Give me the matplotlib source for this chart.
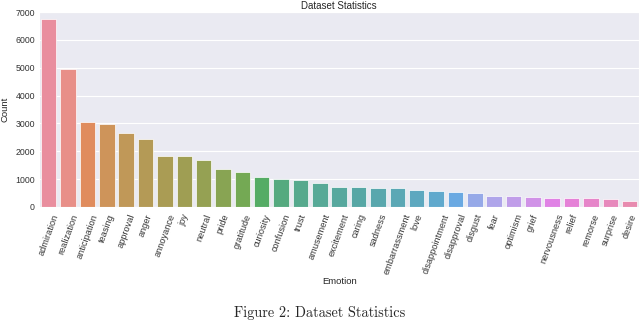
import matplotlib
matplotlib.use('Agg')
import matplotlib.pyplot as plt
import seaborn as sns

# emotion counts
emotions = ['admiration', 'realization', 'anticipation', 'teasing', 'approval', 'anger',
            'annoyance', 'joy', 'neutral', 'pride', 'gratitude', 'curiosity', 'confusion',
            'trust', 'amusement', 'excitement', 'caring', 'sadness', 'embarrassment', 'love',
            'disappointment', 'disapproval', 'disgust', 'fear', 'optimism', 'grief',
            'nervousness', 'relief', 'remorse', 'surprise', 'desire']
counts = [6750, 4970, 3050, 2980, 2640, 2440,
          1820, 1820, 1690, 1350, 1240, 1080, 1010,
          970, 870, 710, 705, 670, 670, 620,
          570, 545, 490, 400, 400, 350,
          320, 320, 320, 280, 220]
y_ticks = [0, 1000, 2000, 3000, 4000, 5000, 6000, 7000]

sns.set_style('darkgrid')
plt.rcParams['font.family'] = ['Liberation Sans', 'DejaVu Sans']

fig = plt.figure(figsize=(6.4, 3.28), dpi=100)
ax = fig.add_axes([0.061, 0.369, 0.938, 0.594])

# husl palette, desaturated like seaborn barplot and slightly lightened
colors = []
for c in sns.color_palette('husl', len(emotions)):
    r, g, b = sns.desaturate(c, 0.75)
    colors.append((r + (1 - r) * 0.1, g + (1 - g) * 0.1, b + (1 - b) * 0.1))
ax.bar(range(len(emotions)), counts, width=0.8, color=colors, edgecolor='white', linewidth=0.5)

ax.set_xlim(-0.5, len(emotions) - 0.5)
ax.set_ylim(0, 7000)
ax.set_yticks(y_ticks)
ax.set_xticks(range(len(emotions)))
ax.set_xticklabels(emotions, rotation=70, ha='center', fontsize=6.6)
ax.tick_params(axis='y', labelsize=6.3, length=0, pad=3, labelcolor='#333333')
ax.tick_params(axis='x', length=0, pad=4, labelcolor='#333333')
ax.grid(axis='x', visible=False)
ax.set_xlabel('Emotion', fontsize=6.8, labelpad=1)
ax.set_ylabel('Count', fontsize=6.8, labelpad=4)
ax.set_title('Dataset Statistics', fontsize=7, pad=2)

fig.text(0.5, 0.025, 'Figure 2: Dataset Statistics', ha='center', va='bottom',
         fontsize=10.3, family='cmr10')

fig.savefig('out.png', dpi=100)
